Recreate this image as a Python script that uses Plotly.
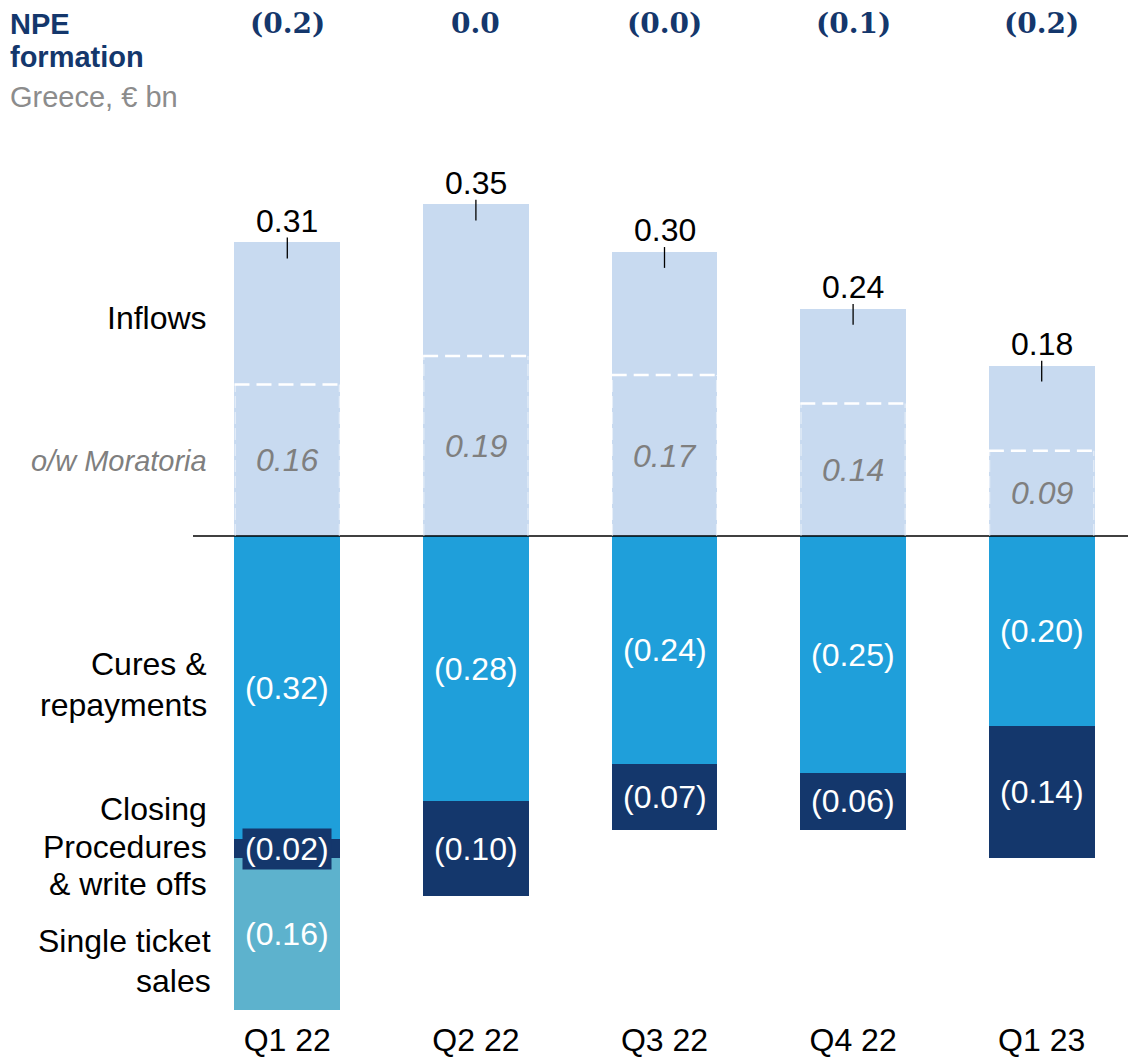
import plotly.graph_objects as go

categories = ["Q1 22", "Q2 22", "Q3 22", "Q4 22", "Q1 23"]
inflows = [0.31, 0.35, 0.30, 0.24, 0.18]
moratoria = [0.16, 0.19, 0.17, 0.14, 0.09]
cures = [-0.32, -0.28, -0.24, -0.25, -0.20]
closing = [-0.02, -0.10, -0.07, -0.06, -0.14]
single_ticket = [-0.16, 0, 0, 0, 0]
net_labels = ["(0.2)", "0.0", "(0.0)", "(0.1)", "(0.2)"]

C_LIGHT = "#C8DAF0"
C_CURES = "#1F9FDA"
C_NAVY = "#14376C"
C_SINGLE = "#5DB2CD"
C_GRAY = "#8C8C8C"

OFF = 8  # page body margin
W, H = 1136, 1058
ML, MR, MT, MB = 193 - OFF, OFF, 157 - OFF, 46 + OFF
YMIN, YMAX = -0.50, 0.40
PH = H - MT - MB
PW = W - ML - MR
BW = 0.56
FONT = "Liberation Sans, Arial, sans-serif"
FS = 32

def py(pix):
    # screen pixel y -> paper coordinate
    return (H - MB - (pix - OFF)) / PH

def px(pix):
    # screen pixel x -> paper coordinate
    return ((pix - OFF) - ML) / PW

xs = list(range(len(categories)))
other_inflows = [t - m for t, m in zip(inflows, moratoria)]

fig = go.Figure()
fig.add_trace(go.Bar(x=xs, y=moratoria, width=BW, marker=dict(color=C_LIGHT, line=dict(width=0)), name="Moratoria"))
fig.add_trace(go.Bar(x=xs, y=other_inflows, width=BW, marker=dict(color=C_LIGHT, line=dict(width=0)), name="Inflows"))
fig.add_trace(go.Bar(x=xs, y=cures, width=BW, marker=dict(color=C_CURES, line=dict(width=0)), name="Cures"))
fig.add_trace(go.Bar(x=xs, y=closing, width=BW, marker=dict(color=C_NAVY, line=dict(width=0)), name="Closing"))
fig.add_trace(go.Bar(x=xs, y=single_ticket, width=BW, marker=dict(color=C_SINGLE, line=dict(width=0)), name="Single"))

shapes = []
annotations = []

# zero line
shapes.append(dict(type="line", xref="paper", yref="y", x0=0, x1=1, y0=0, y1=0,
                   line=dict(color="black", width=1.5)))

def fmt_neg(v):
    return "({:.2f})".format(abs(v))

for i in xs:
    # faint dashed sides of the moratoria segment
    for side in (-1, 1):
        xe = i + side * (BW / 2 - 0.004)
        shapes.append(dict(type="line", xref="x", yref="y", x0=xe, x1=xe,
                           y0=0, y1=moratoria[i],
                           line=dict(color="rgba(255,255,255,0.55)", width=1.2, dash="12px,4px")))
    # dashed moratoria boundary
    shapes.append(dict(type="line", xref="x", yref="y", x0=i - BW / 2, x1=i + BW / 2,
                       y0=moratoria[i], y1=moratoria[i],
                       line=dict(color="white", width=2.5, dash="15px,7px")))
    # leader tick at top of inflows
    shapes.append(dict(type="line", xref="x", yref="y", x0=i, x1=i,
                       y0=inflows[i] + 0.005, y1=inflows[i] - 0.017,
                       line=dict(color="black", width=1.3)))
    # total inflow label
    annotations.append(dict(x=i, y=inflows[i] + 0.023, xref="x", yref="y", text="{:.2f}".format(inflows[i]),
                            showarrow=False, font=dict(family=FONT, size=FS, color="black"),
                            xanchor="center", yanchor="middle"))
    # moratoria label
    annotations.append(dict(x=i, y=moratoria[i] / 2, xref="x", yref="y", text="<i>{:.2f}</i>".format(moratoria[i]),
                            showarrow=False, font=dict(family=FONT, size=FS, color="#7F7F7F"),
                            xanchor="center", yanchor="middle"))
    # cures label
    annotations.append(dict(x=i, y=cures[i] / 2, xref="x", yref="y", text=fmt_neg(cures[i]),
                            showarrow=False, font=dict(family=FONT, size=FS, color="white"),
                            xanchor="center", yanchor="middle"))
    # closing label
    cl_mid = cures[i] + closing[i] / 2
    ann = dict(x=i, y=cl_mid, xref="x", yref="y", text=fmt_neg(closing[i]),
               showarrow=False, font=dict(family=FONT, size=FS, color="white"),
               xanchor="center", yanchor="middle")
    if abs(closing[i]) < 0.04:
        ann.update(bgcolor=C_NAVY, borderpad=2)
    annotations.append(ann)
    # single ticket label
    if single_ticket[i] != 0:
        st_mid = cures[i] + closing[i] + single_ticket[i] / 2
        annotations.append(dict(x=i, y=st_mid, xref="x", yref="y", text=fmt_neg(single_ticket[i]),
                                showarrow=False, font=dict(family=FONT, size=FS, color="white"),
                                xanchor="center", yanchor="middle"))
    # net formation label on top
    annotations.append(dict(x=i, y=py(23), xref="x", yref="paper", text="<b>" + net_labels[i] + "</b>",
                            showarrow=False, font=dict(family="DejaVu Serif, Georgia, serif", size=28, color=C_NAVY),
                            xanchor="center", yanchor="middle"))

# title
annotations.append(dict(x=px(8), y=py(24), xref="paper", yref="paper", text="<b>NPE</b>", showarrow=False,
                        font=dict(family=FONT, size=29, color=C_NAVY), xanchor="left", yanchor="middle"))
annotations.append(dict(x=px(8), y=py(57), xref="paper", yref="paper", text="<b>formation</b>", showarrow=False,
                        font=dict(family=FONT, size=29, color=C_NAVY), xanchor="left", yanchor="middle"))
annotations.append(dict(x=px(8), y=py(97), xref="paper", yref="paper", text="Greece, € bn", showarrow=False,
                        font=dict(family=FONT, size=29, color=C_GRAY), xanchor="left", yanchor="middle"))

# row labels on the left
row_labels = [
    ("Inflows", 318, "black", False, FS),
    ("o/w Moratoria", 462, "#7F7F7F", True, 29),
    ("Cures &", 665, "black", False, FS),
    ("repayments", 706, "black", False, FS),
    ("Closing", 811, "black", False, FS),
    ("Procedures", 849, "black", False, FS),
    ("& write offs", 886, "black", False, FS),
    ("Single ticket", 943, "black", False, FS),
    ("sales", 983, "black", False, FS),
]
for txt, ypix, col, ital, fs in row_labels:
    xr = 213 if txt in ("Single ticket", "sales") else 209
    t = "<i>" + txt + "</i>" if ital else txt
    annotations.append(dict(x=px(xr), y=py(ypix), xref="paper", yref="paper", text=t, showarrow=False,
                            font=dict(family=FONT, size=fs, color=col), xanchor="right", yanchor="middle"))

fig.update_layout(
    barmode="relative",
    width=W, height=H,
    margin=dict(l=ML, r=MR, t=MT, b=MB, pad=0),
    plot_bgcolor="white", paper_bgcolor="white",
    showlegend=False,
    bargap=0,
    shapes=shapes,
    annotations=annotations,
    xaxis=dict(range=[-0.5, len(categories) - 0.5], tickvals=xs, ticktext=categories,
               showgrid=False, zeroline=False, showline=False, ticks="",
               ticklabelstandoff=8,
               tickfont=dict(family=FONT, size=FS, color="black")),
    yaxis=dict(range=[YMIN, YMAX], visible=False, showgrid=False, zeroline=False),
)

fig.write_html("out.html")
